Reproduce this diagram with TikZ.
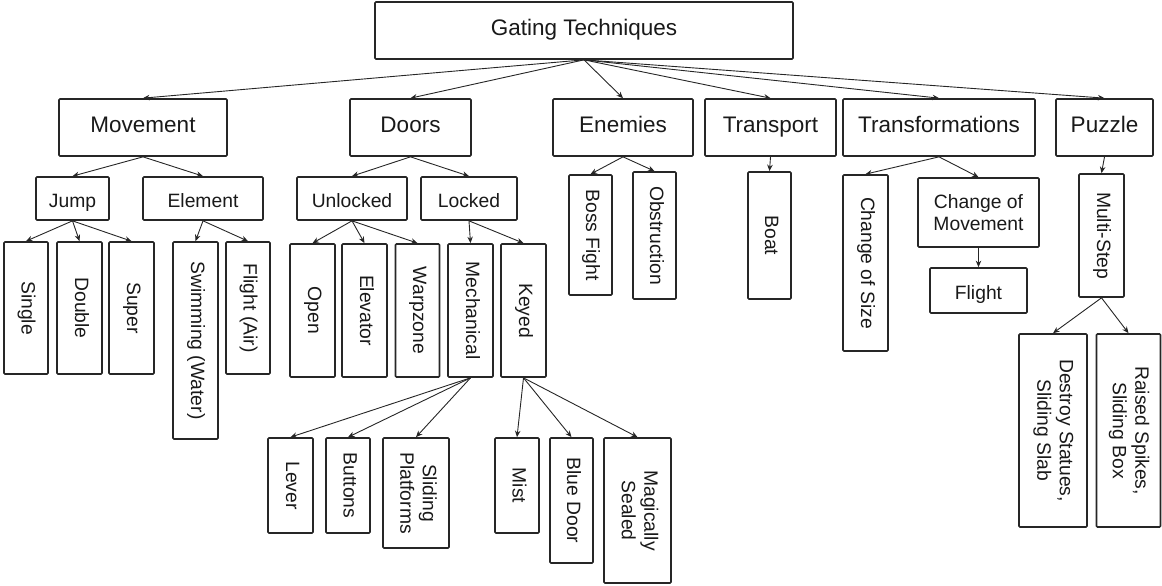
\documentclass[tikz,border=0pt]{standalone}
\usepackage{fontspec}
\setmainfont{Liberation Sans}
\usetikzlibrary{arrows.meta}
\tikzset{
  box/.style={draw=black!85, line width=1.7pt, rounded corners=1pt, inner sep=0pt,
    align=center, text=black!90, font=\fontsize{19.3}{22.5}\selectfont},
  hbox/.style={box, text height=17pt, text depth=0pt},
  bigbox/.style={box, font=\fontsize{22.5}{26}\selectfont, text height=18pt, text depth=8pt},
  link/.style={-{Stealth[length=6.5pt,width=5.5pt]}, line width=0.9pt, draw=black!85},
}
% vertical label, read from top to bottom
\newcommand\vtext[1]{\rotatebox{-90}{\begin{tabular}{@{}c@{}}#1\end{tabular}}}
\begin{document}
\begin{tikzpicture}[x=1pt,y=-1pt]
\useasboundingbox (0,0) rectangle (1162,586);

% root
\node[bigbox, minimum width=418pt, minimum height=57pt] (root) at (584,30.5) {Gating Techniques};

% first level
\node[bigbox, minimum width=168pt, minimum height=57pt] (movement) at (143,127.5) {Movement};
\node[bigbox, minimum width=121pt, minimum height=57pt] (doors) at (410.5,127.5) {Doors};
\node[bigbox, minimum width=140pt, minimum height=57pt] (enemies) at (623,127.5) {Enemies};
\node[bigbox, minimum width=131pt, minimum height=57pt] (transport) at (770.5,127.5) {Transport};
\node[bigbox, minimum width=192pt, minimum height=57pt] (transf) at (939,127.5) {Transformations};
\node[bigbox, minimum width=97pt, minimum height=57pt] (puzzle) at (1104.5,127.5) {Puzzle};

% second level
\node[hbox, minimum width=73pt, minimum height=43pt] (jump) at (72.5,198.5) {Jump};
\node[hbox, minimum width=120pt, minimum height=43pt] (element) at (203,198.5) {Element};
\node[hbox, minimum width=110pt, minimum height=43pt] (unlocked) at (352,198.5) {Unlocked};
\node[hbox, minimum width=96pt, minimum height=43pt] (locked) at (469,198.5) {Locked};
\node[box, minimum width=43pt, minimum height=120pt] (boss) at (590.5,235) {\vtext{Boss Fight}};
\node[box, minimum width=43pt, minimum height=127pt] (obstruction) at (654.5,235.5) {\vtext{Obstruction}};
\node[box, minimum width=43pt, minimum height=127pt] (boat) at (769.5,235.5) {\vtext{Boat}};
\node[box, minimum width=45pt, minimum height=176pt] (size) at (865.5,263) {\vtext{Change of Size}};
\node[box, minimum width=121pt, minimum height=69pt] (chmove) at (978.5,212.5) {Change of\\Movement};
\node[hbox, minimum width=97pt, minimum height=45pt] (flight) at (978.5,290.5) {Flight};
\node[box, minimum width=45pt, minimum height=123pt] (multistep) at (1101.5,235.5) {\vtext{Multi-Step}};

% third level
\node[box, minimum width=44pt, minimum height=132pt] (single) at (26,308) {\vtext{Single}};
\node[box, minimum width=45pt, minimum height=132pt] (double) at (79.5,308) {\vtext{Double}};
\node[box, minimum width=45pt, minimum height=132pt] (super) at (131.5,308) {\vtext{Super}};
\node[box, minimum width=45pt, minimum height=197pt] (swim) at (195.5,340.5) {\vtext{Swimming (Water)}};
\node[box, minimum width=44pt, minimum height=132pt] (flightair) at (248,308) {\vtext{Flight (Air)}};
\node[box, minimum width=45pt, minimum height=133pt] (open) at (312.5,310.5) {\vtext{Open}};
\node[box, minimum width=45pt, minimum height=133pt] (elevator) at (364.5,310.5) {\vtext{Elevator}};
\node[box, minimum width=44pt, minimum height=133pt] (warpzone) at (417.5,310.5) {\vtext{Warpzone}};
\node[box, minimum width=45pt, minimum height=133pt] (mechanical) at (470.5,310.5) {\vtext{Mechanical}};
\node[box, minimum width=45pt, minimum height=133pt] (keyed) at (523.5,310.5) {\vtext{Keyed}};

% fourth level
\node[box, minimum width=45pt, minimum height=95pt] (lever) at (290.5,485.5) {\vtext{Lever}};
\node[box, minimum width=44pt, minimum height=95pt] (buttons) at (348,485.5) {\vtext{Buttons}};
\node[box, minimum width=66pt, minimum height=110pt] (sliding) at (416,493) {\vtext{Sliding\\Platforms}};
\node[box, minimum width=44pt, minimum height=95pt] (mist) at (517,485.5) {\vtext{Mist}};
\node[box, minimum width=43pt, minimum height=125pt] (bluedoor) at (571.5,500.5) {\vtext{Blue Door}};
\node[box, minimum width=67pt, minimum height=145pt] (magic) at (637.5,510.5) {\vtext{Magically\\Sealed}};
\node[box, minimum width=68pt, minimum height=193pt] (destroy) at (1053,430.5) {\vtext{Destroy Statues,\\Sliding Slab}};
\node[box, minimum width=64pt, minimum height=193pt] (raised) at (1128.5,430.5) {\vtext{Raised Spikes,\\Sliding Box}};

% connectors
\foreach \c in {movement,doors,enemies,transport,transf,puzzle}
  \draw[link] (root.south) -- (\c.north);
\foreach \c in {jump,element} \draw[link] (movement.south) -- (\c.north);
\foreach \c in {single,double,super} \draw[link] (jump.south) -- (\c.north);
\foreach \c in {swim,flightair} \draw[link] (element.south) -- (\c.north);
\foreach \c in {unlocked,locked} \draw[link] (doors.south) -- (\c.north);
\foreach \c in {open,elevator,warpzone} \draw[link] (unlocked.south) -- (\c.north);
\foreach \c in {mechanical,keyed} \draw[link] (locked.south) -- (\c.north);
\foreach \c in {lever,buttons,sliding} \draw[link] (mechanical.south) -- (\c.north);
\foreach \c in {mist,bluedoor,magic} \draw[link] (keyed.south) -- (\c.north);
\foreach \c in {boss,obstruction} \draw[link] (enemies.south) -- (\c.north);
\draw[link] (transport.south) -- (boat.north);
\foreach \c in {size,chmove} \draw[link] (transf.south) -- (\c.north);
\draw[link] (chmove.south) -- (flight.north);
\draw[link] (puzzle.south) -- (multistep.north);
\foreach \c in {destroy,raised} \draw[link] (multistep.south) -- (\c.north);
\end{tikzpicture}
\end{document}
